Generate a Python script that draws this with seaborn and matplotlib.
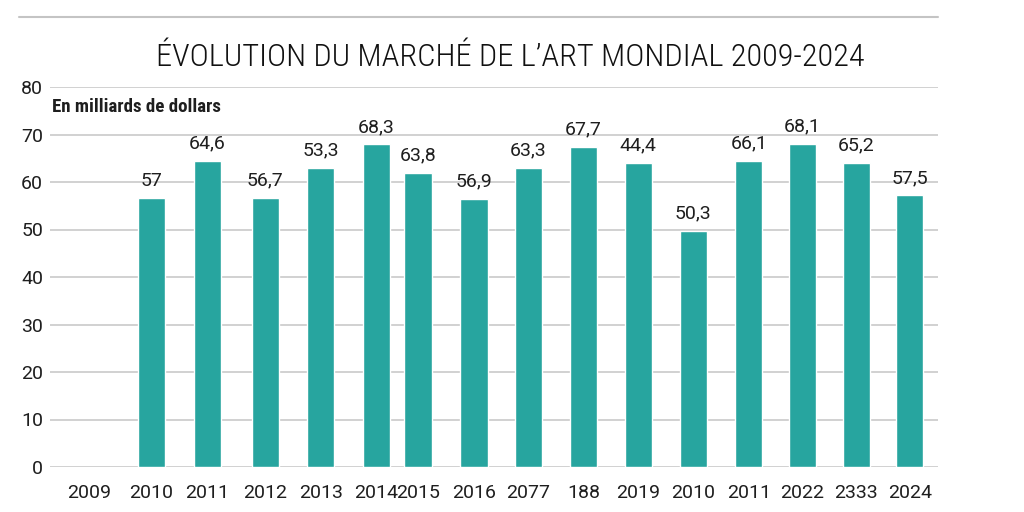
import numpy as np
import pandas as pd
import matplotlib
matplotlib.use("Agg")
import matplotlib.pyplot as plt
from matplotlib.lines import Line2D
import seaborn as sns

# Data (x labels printed as shown)
year_labels = ["2009", "2010", "2011", "2012", "2013", "2014", "2015", "2016",
               "2077", "188", "2019", "2010", "2011", "2022", "2333", "2024"]
bar_heights = [np.nan, 56.6, 64.5, 56.6, 63.0, 67.9, 61.9, 56.5,
               63.0, 67.4, 64.0, 49.7, 64.5, 68.0, 64.1, 57.2]
value_labels = [None, 57, 64.6, 56.7, 53.3, 68.3, 63.8, 56.9,
                63.3, 67.7, 44.4, 50.3, 66.1, 68.1, 65.2, 57.5]

# Layout: slot positions of each column (2014/2015 are squeezed together)
slots = [-0.13, 1.0, 2.01, 3.05, 4.05, 5.05, 5.80, 6.81,
         7.79, 8.78, 9.77, 10.76, 11.76, 12.73, 13.70, 14.66]

BAR_COLOR = "#27a59f"
GRID_COLOR = "#c9c9c9"
TEXT_COLOR = "#1e1e1e"

sns.set_theme(style="whitegrid")
plt.rcParams["font.family"] = ["Roboto", "DejaVu Sans"]
COND = ["Roboto Condensed", "DejaVu Sans"]


def fmt(v):
    return f"{v:g}".replace(".", ",")


df = pd.DataFrame({"pos": slots, "height": bar_heights, "label": value_labels})
bars = df.dropna(subset=["height"])

fig = plt.figure(figsize=(10.24, 5.12), dpi=100)
ax = fig.add_axes([50 / 1024, 1 - 467 / 512, 888 / 1024, 380 / 512])

bar_width = 0.49
min_gap = np.min(np.diff(np.sort(bars["pos"].values)))
sns.barplot(data=bars, x="pos", y="height", native_scale=True, color=BAR_COLOR,
            saturation=1, width=bar_width / min_gap, errorbar=None, ax=ax, zorder=3)

for _, row in bars.iterrows():
    ax.annotate(fmt(row["label"]), (row["pos"], row["height"]), xytext=(0, 6),
                textcoords="offset points", ha="center", va="bottom",
                fontsize=14, color=TEXT_COLOR)

ax.set_xlim(-0.83, 15.17)
ax.set_ylim(0, 80)
ax.set_yticks(range(0, 81, 10))
ax.set_xticks(slots)
ax.set_xticklabels(year_labels)
ax.tick_params(axis="both", length=0, labelsize=14, labelcolor=TEXT_COLOR)
ax.tick_params(axis="x", pad=12)
ax.tick_params(axis="y", pad=5)
ax.grid(axis="y", color=GRID_COLOR, linewidth=1.2, zorder=0)
ax.grid(axis="x", visible=False)
ax.set_xlabel("")
ax.set_ylabel("")
for s in ax.spines.values():
    s.set_visible(False)
ax.set_facecolor("white")

fig.text(52 / 1024, 1 - 107 / 512, "En milliards de dollars", family=COND,
         fontweight="bold", fontsize=13.6, color=TEXT_COLOR, ha="left", va="center")
fig.text(510 / 1024, 1 - 66 / 512, "ÉVOLUTION DU MARCHÉ DE L’ART MONDIAL 2009-2024",
         family=COND, fontweight="light", fontsize=23.3, color="#111111",
         ha="center", va="baseline")
fig.add_artist(Line2D([19 / 1024, 938 / 1024], [1 - 16.7 / 512] * 2,
                      transform=fig.transFigure, color="#c4c4c4", linewidth=1.5))

fig.savefig("out.png", dpi=100, facecolor="white")
